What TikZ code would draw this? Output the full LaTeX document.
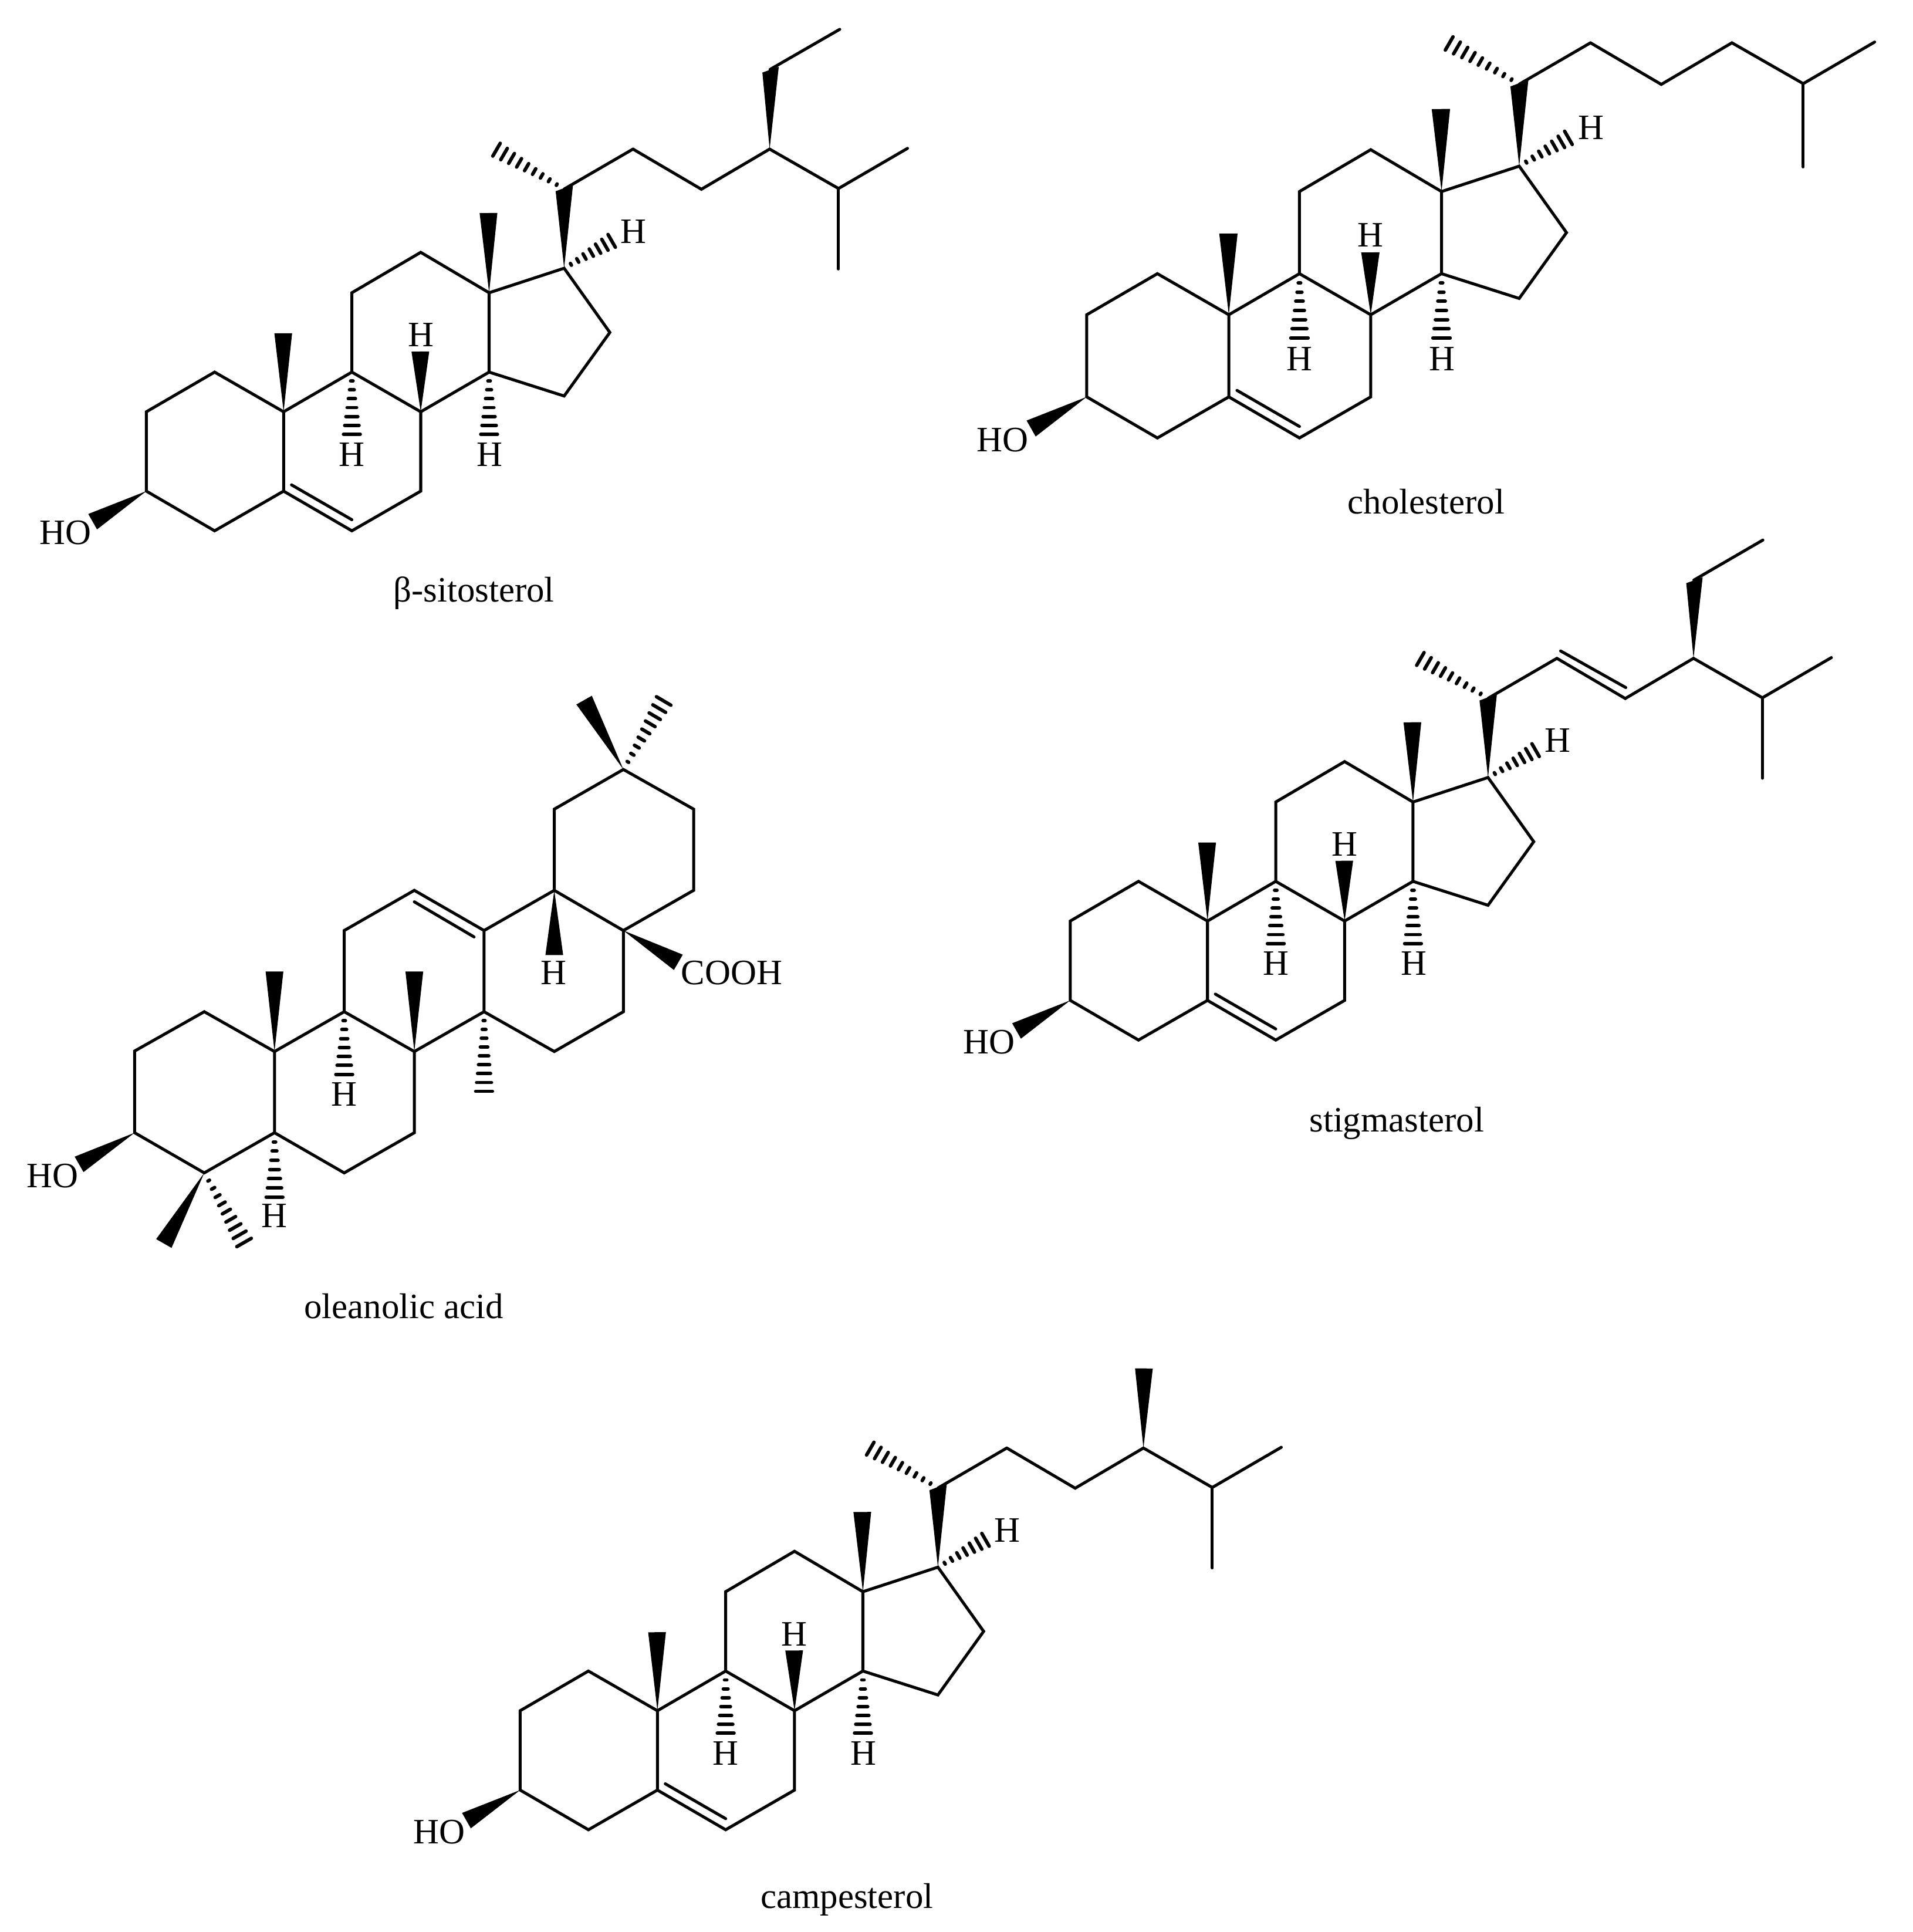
\documentclass[tikz,border=0pt]{standalone}
\usepackage{fontspec}
\setmainfont{Liberation Serif}
\usetikzlibrary{calc}
\tikzset{
	bond/.style={line width=2.4pt,line cap=round,line join=miter},
	hashline/.style={line width=2.8pt,line cap=round},
	atomlabel/.style={inner sep=0pt,font=\fontsize{29}{32}\selectfont},
	molname/.style={inner sep=0pt,font=\fontsize{29}{32}\selectfont}
}
\newcommand{\wedgebond}[2]{\fill ($(#2)!7.2pt!90:(#1)$) -- (#1) -- ($(#2)!7.2pt!-90:(#1)$) -- cycle;}
\newcommand{\hashbond}[4][7]{\foreach \k in {1,...,#1}{
	\pgfmathsetmacro{\hpos}{\k/#1}
	\pgfmathsetmacro{\hwid}{#4*\hpos}
	\draw[hashline] ($(#2)!\hpos!(#3)!\hwid pt!90:(#2)$) -- ($(#2)!\hpos!(#3)!\hwid pt!-90:(#2)$);
}}
% rings and the first carbons of the side chain, shared by the four sterols
\newcommand{\sterolcore}{
	\foreach \n/\p in {C1/{174.2,302},C2/{118.8,334.2},C3/{118.8,398.6},C4/{174.2,430.8},C5/{230.2,398.6},
		C6/{285.6,430.8},C7/{341.5,398.6},C8/{341.5,334.2},C9/{285.6,302},C10/{230.2,334.2},
		C11/{285.6,237.6},C12/{341.5,204.8},C13/{397,237.6},C14/{397,302},C15/{457.9,321.4},
		C16/{495,269.8},C17/{457.9,217.7},C18/{396.5,172.9},C19/{229.9,270.5},C20/{458,153.4},
		C21/{403,121.5},C22/{513.8,121},O3/{75.2,423.4},T8/{341.2,285.3},T9/{285.6,352.4},
		T14/{397,352.4},T17/{496.5,195.5},D5/{236.6,393.5},D6/{285.6,421.8}}
		{\coordinate (\n) at (\p);}
	\draw[bond] (C10) -- (C1) -- (C2) -- (C3) -- (C4) -- (C5) -- (C6) -- (C7) -- (C8) -- (C9) -- (C10) -- (C5);
	\draw[bond] (C9) -- (C11) -- (C12) -- (C13) -- (C14) -- (C8);
	\draw[bond] (C14) -- (C15) -- (C16) -- (C17) -- (C13);
	\draw[bond] (D5) -- (D6);
	\draw[bond] (C20) -- (C22);
	\wedgebond{C10}{C19}
	\wedgebond{C13}{C18}
	\wedgebond{C8}{T8}
	\fill (C17) -- ($(C20)+(-7,1.8)$) -- ($(C20)+(7.1,-3.4)$) -- cycle;
	\wedgebond{C3}{O3}
	\hashbond{C9}{T9}{6.8}
	\hashbond{C14}{T14}{6.8}
	\hashbond{C17}{T17}{6}
	\hashbond[9]{C20}{C21}{6}
	\node[atomlabel] (H8) at (341.5,272) {H};
	\node[atomlabel] (H9) at (285.7,368.7) {H};
	\node[atomlabel] (H14) at (397.5,368.7) {H};
	\node[atomlabel] (H17) at (514.3,187.7) {H};
	\node[atomlabel] (HO) at (53,432.4) {HO};
}
% end of the side chain
\newcommand{\isopropyl}{
	\foreach \n/\p in {C23/{569.3,153.6},C24/{624.7,121},C25/{680.6,153},C26/{736.6,120.4},C27/{680.6,218.3}}
		{\coordinate (\n) at (\p);}
	\draw[bond] (C22) -- (C23) -- (C24) -- (C25) -- (C26);
	\draw[bond] (C25) -- (C27);
}
\begin{document}
\begin{tikzpicture}[x=1pt,y=-1pt]
	\useasboundingbox (0,0) rectangle (1552.3,1568);

	% sitosterol
	\begin{scope}[name prefix=sito-]
		\sterolcore
		\isopropyl
		\coordinate (C28) at (625,56.4);
		\coordinate (C29) at (681.6,23.8);
		\fill (C24) -- ($(C28)+(-6.2,2.5)$) -- ($(C28)+(7.1,-2.3)$) -- cycle;
		\draw[bond] (C28) -- (C29);
	\end{scope}

	% cholesterol
	\begin{scope}[name prefix=chol-,shift={(759.1,-90.5)},scale=1.035]
		\sterolcore
		\isopropyl
	\end{scope}

	% stigmasterol
	\begin{scope}[name prefix=stig-,shift={(749.9,413.3)}]
		\sterolcore
		\isopropyl
		\coordinate (C28) at (625,57.5);
		\coordinate (C29) at (681,25);
		\coordinate (D22) at (516.8,115);
		\coordinate (D23) at (569.7,144.7);
		\fill (C24) -- ($(C28)+(-6.2,2.5)$) -- ($(C28)+(7.1,-2.3)$) -- cycle;
		\draw[bond] (C28) -- (C29);
		\draw[bond] (D22) -- (D23);
	\end{scope}

	% campesterol
	\begin{scope}[name prefix=camp-,shift={(303.4,1054.2)}]
		\sterolcore
		\isopropyl
		\coordinate (C28) at (625.1,56.4);
		\wedgebond{C24}{C28}
	\end{scope}

	% oleanolic acid
	\begin{scope}[name prefix=olea-]
		\foreach \n/\p in {C1/{165.8,821.1},C2/{109.3,853},C3/{109.3,919.3},C4/{165.8,951.9},C5/{222.8,919.3},
			C6/{279.4,951.9},C7/{336.3,919.3},C8/{336.3,853.4},C9/{279.4,821.1},C10/{222.8,853.4},
			C11/{279.4,755.2},C12/{336.3,722.6},C13/{392.9,755.2},C14/{392.9,821.1},C15/{449.9,853.4},
			C16/{506,821.1},C17/{506,755.2},C18/{449.9,722.6},C19/{449.9,656.7},C20/{506,624.5},
			C21/{563,656.7},C22/{563,722.6},M10/{222.8,788.5},M8/{336.3,788.5},M14/{392.9,885.7},
			T9/{279.4,871.9},T5/{222.8,971.5},T18/{449.9,775.1},T17/{550.6,781},M20a/{474.1,568.2},
			M20b/{538.7,568.9},M4a/{133,1009.2},M4b/{198.1,1008.4},O3/{64.2,945},
			D12/{336.3,731.9},D13/{384.8,760.4}}
			{\coordinate (\n) at (\p);}
		\draw[bond] (C10) -- (C1) -- (C2) -- (C3) -- (C4) -- (C5) -- (C6) -- (C7) -- (C8) -- (C9) -- (C10) -- (C5);
		\draw[bond] (C9) -- (C11) -- (C12) -- (C13) -- (C14) -- (C8);
		\draw[bond] (C14) -- (C15) -- (C16) -- (C17) -- (C18) -- (C13);
		\draw[bond] (C18) -- (C19) -- (C20) -- (C21) -- (C22) -- (C17);
		\draw[bond] (D12) -- (D13);
		\wedgebond{C10}{M10}
		\wedgebond{C8}{M8}
		\wedgebond{C18}{T18}
		\wedgebond{C17}{T17}
		\wedgebond{C20}{M20a}
		\wedgebond{C4}{M4a}
		\wedgebond{C3}{O3}
		\hashbond{C9}{T9}{6.8}
		\hashbond{C5}{T5}{6.8}
		\hashbond[9]{C14}{M14}{6.8}
		\hashbond[9]{C20}{M20b}{6.8}
		\hashbond[9]{C4}{M4b}{6.8}
		\node[atomlabel] (H9) at (279.4,888) {H};
		\node[atomlabel] (H5) at (222.8,986.9) {H};
		\node[atomlabel] (H18) at (449.5,789.6) {H};
		\node[atomlabel] (COOH) at (594,789.6) {COOH};
		\node[atomlabel] (HO) at (42.5,954.3) {HO};
	\end{scope}

	\node[molname] (sitoname) at (384.6,481.5) {β-sitosterol};
	\node[molname] (cholname) at (1157.6,407) {cholesterol};
	\node[molname] (stigname) at (1133.7,911.5) {stigmasterol};
	\node[molname] (oleaname) at (327.8,1060) {oleanolic acid};
	\node[molname] (campname) at (687.5,1541.7) {campesterol};
\end{tikzpicture}
\end{document}
